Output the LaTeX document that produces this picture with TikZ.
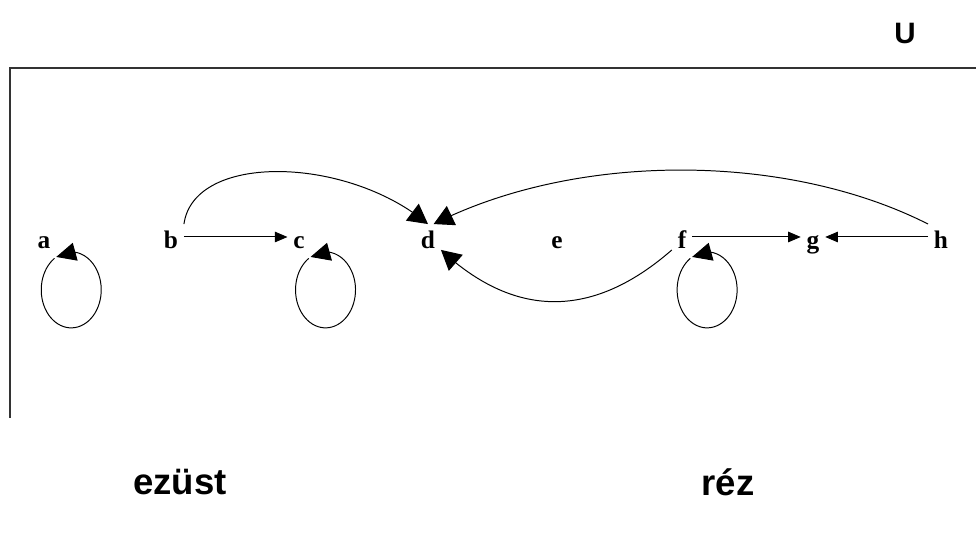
\documentclass[tikz,border=0pt]{standalone}
\usepackage{fontspec}
\setmainfont{Liberation Serif}
\newfontfamily\sansfett{Liberation Sans}
\usetikzlibrary{arrows.meta, bending}

\begin{document}
\begin{tikzpicture}[x=0.25mm, y=0.25mm, >={Triangle[length=9pt,width=7.5pt]},
	elem/.style={font=\fontsize{18}{18}\selectfont\bfseries, inner xsep=4pt, inner ysep=1pt, text height=16pt, text depth=0pt},
	pfeil/.style={->, line width=0.7pt},
	bogen/.style={-{Triangle[length=14pt,width=15pt]}, line width=0.7pt},
	schleife/.style={{Triangle[length=14pt,width=13pt]}-, line width=0.7pt}]
	
	\useasboundingbox (0,0) rectangle (976,536);
	
	% Rahmen
	\draw[line width=1.2pt, black!80] (10,118) -- (10,468) -- (976,468);
	\node[font=\sansfett\bfseries\fontsize{21}{21}\selectfont] (U) at (905,502) {U};
	
	% Elemente
	\node[elem] (a) at (44,299) {a};
	\node[elem] (b) at (171,299) {b};
	\node[elem] (c) at (299,299) {c};
	\node[elem] (d) at (428,299) {d};
	\node[elem] (e) at (557,299) {e};
	\node[elem] (f) at (682,299) {f};
	\node[elem] (g) at (813,299) {g};
	\node[elem] (h) at (941,299) {h};
	
	% gerade Pfeile
	\draw[pfeil] (b) -- (c);
	\draw[pfeil] (f) -- (g);
	\draw[pfeil] (h) -- (g);
	
	% Boegen nach d
	\draw[bogen] (b.north east) .. controls +(10,72) and +(-80,68) .. (d.north);
	\draw[bogen] (h.north west) .. controls +(-142,72) and +(142,72) .. ([xshift=4pt]d.north);
	\draw[bogen] (f.south west) .. controls +(-79,-69) and +(74,-69) .. (d.south east);
	
	% Schleifen
	\draw[schleife] ([yshift=-5pt]a.south east) arc[start angle=120, end angle=-236, x radius=30, y radius=38];
	\draw[schleife] ([yshift=-5pt]c.south east) arc[start angle=120, end angle=-236, x radius=30, y radius=38];
	\draw[schleife] ([yshift=-5pt]f.south east) arc[start angle=120, end angle=-236, x radius=30, y radius=38];
	
	% Mengen
	\node[font=\sansfett\bfseries\fontsize{26}{26}\selectfont] (ezust) at (180,54) {ezüst};
	\node[font=\sansfett\bfseries\fontsize{26}{26}\selectfont] (rez) at (728,54) {réz};
\end{tikzpicture}
\end{document}
